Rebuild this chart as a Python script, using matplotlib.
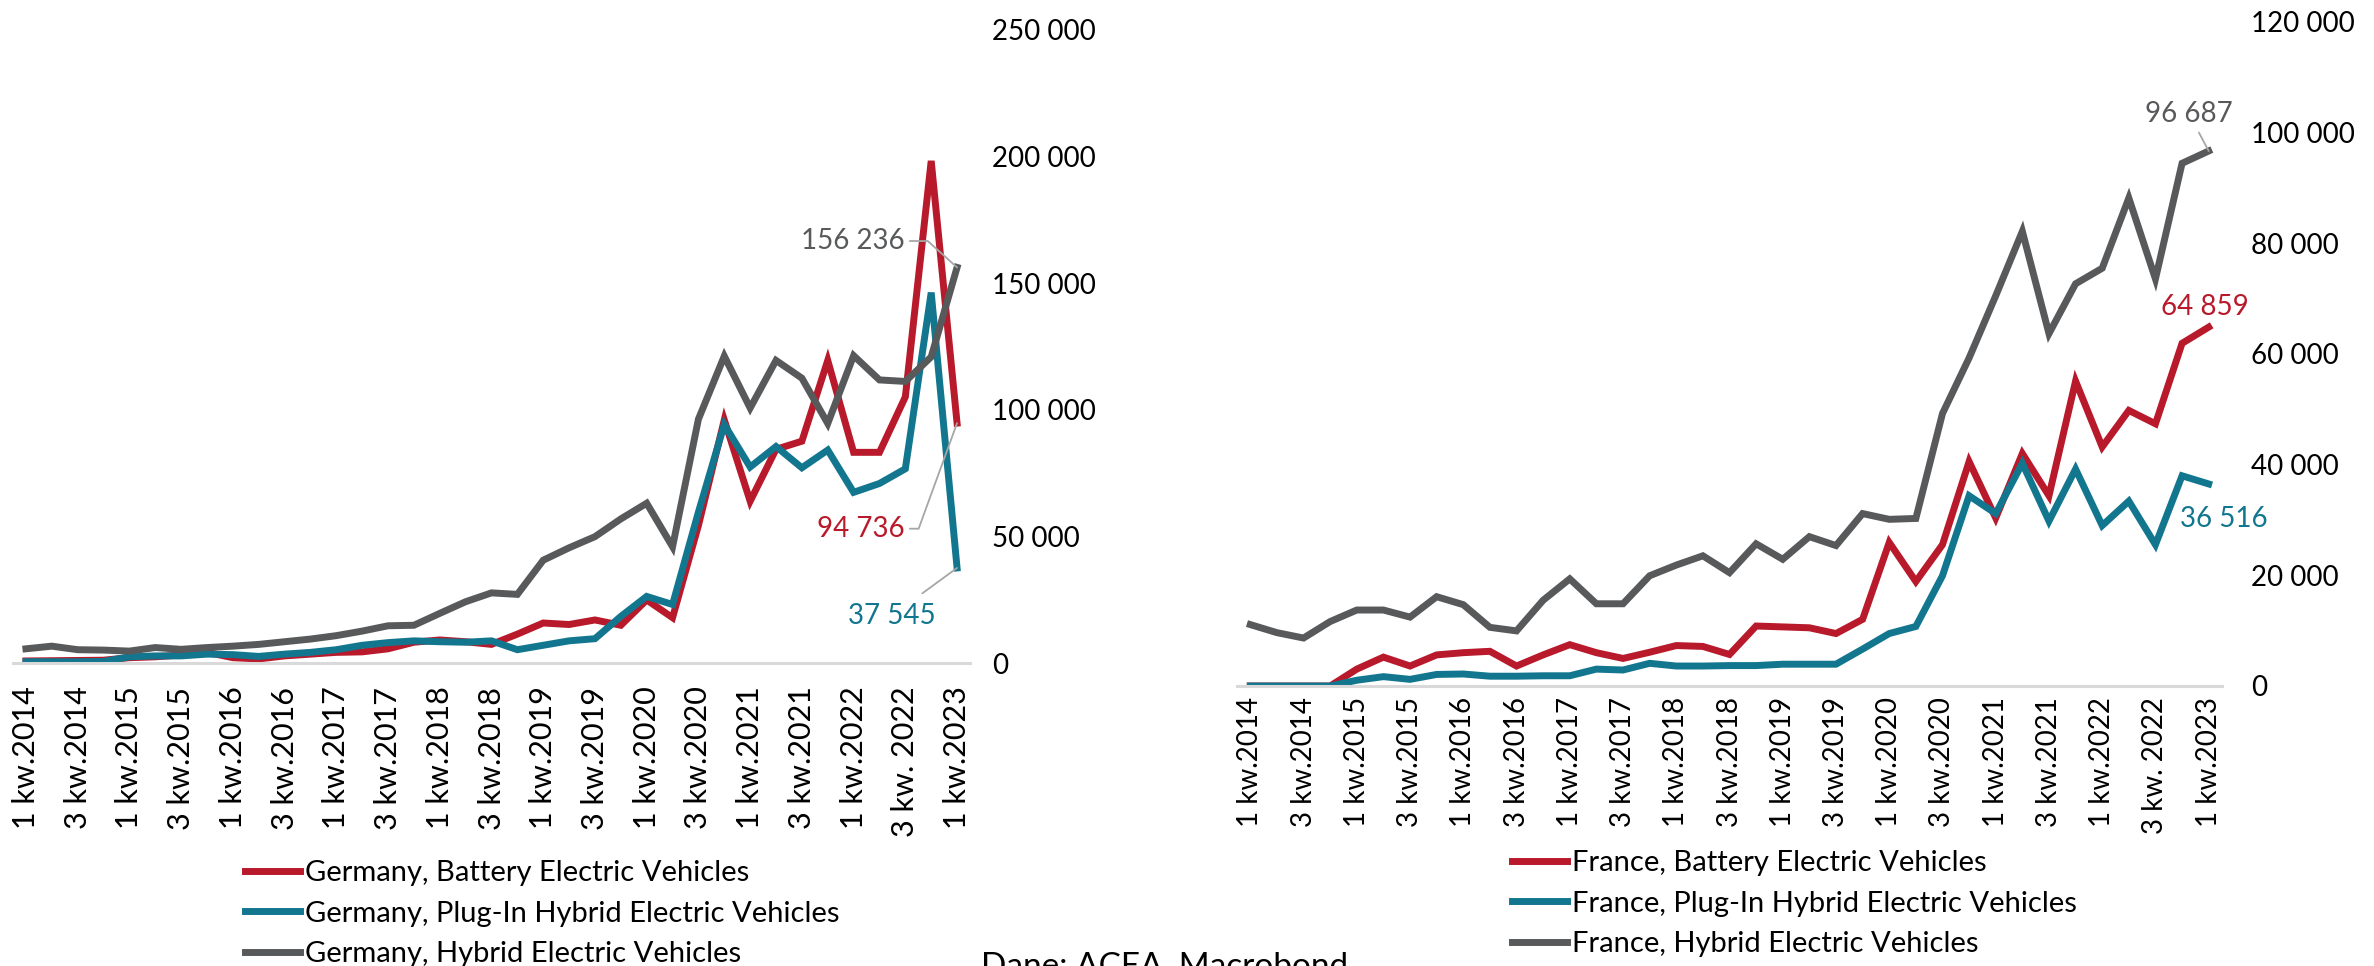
import matplotlib
matplotlib.use('Agg')
from matplotlib import pyplot as plt

# quarters 1 kw.2014 ... 1 kw.2023 (37 points)
quarters = []
for yr in range(2014, 2023):
    for q in range(1, 5):
        quarters.append((q, yr))
quarters.append((1, 2023))

tick_labels = []
for i, (q, yr) in enumerate(quarters):
    if i % 2 == 0:
        if q == 3 and yr == 2022:
            tick_labels.append('3 kw. 2022')
        else:
            tick_labels.append('%d kw.%d' % (q, yr))

# Germany
de_bev = [800, 900, 1000, 1100, 2100, 2450, 3150, 4200, 2100, 1600,
          2800, 3500, 4200, 4400, 5600, 8200, 9100, 8400, 7350, 11400,
          15800, 15200, 17000, 14900, 24900, 17900, 54300, 96000, 63900, 84400,
          87600, 119500, 83200, 83200, 105100, 198300, 94736]
de_phev = [500, 500, 500, 600, 2450, 2800, 2800, 3500, 3300, 2600,
           3500, 4200, 5250, 7000, 8050, 8750, 8400, 8200, 8750, 5250,
           7000, 8750, 9600, 18400, 26300, 23100, 59600, 94200, 77400, 85500,
           77100, 84100, 67400, 70900, 76700, 146300, 37545]
de_hev = [5600, 6650, 5250, 5100, 4700, 6100, 5400, 6100, 6650, 7350,
          8400, 9450, 10800, 12600, 14700, 14900, 19600, 24200, 27700, 27100,
          40600, 45500, 49900, 56900, 63100, 45900, 96300, 121200, 100700, 119500,
          112500, 94600, 121400, 111800, 111200, 120900, 156236]

# France
fr_bev = [0, 0, 0, 0, 3050, 5220, 3610, 5620, 6020, 6270,
          3610, 5620, 7470, 6020, 4980, 6100, 7310, 7150, 5700, 10840,
          10680, 10520, 9480, 12050, 25940, 18880, 25540, 40560, 30360, 42010,
          34380, 55100, 43210, 49800, 47390, 61930, 64859]
fr_phev = [0, 0, 0, 0, 1040, 1690, 1200, 2090, 2170, 1770,
           1770, 1850, 1850, 3050, 2890, 4100, 3610, 3610, 3690, 3690,
           3940, 3940, 3940, 6670, 9480, 10760, 19920, 34380, 31160, 40240,
           29800, 39200, 29000, 33410, 25540, 37990, 36516]
fr_hev = [11100, 9640, 8670, 11650, 13730, 13730, 12450, 16140, 14700, 10600,
          9960, 15500, 19360, 14860, 14860, 19920, 21850, 23530, 20480, 25700,
          22900, 26990, 25380, 31160, 30120, 30280, 49240, 59280, 70520, 82170,
          63690, 72690, 75500, 88190, 73570, 94460, 96687]

de_labels = ['Germany, Battery Electric Vehicles',
             'Germany, Plug-In Hybrid Electric Vehicles',
             'Germany, Hybrid Electric Vehicles']
fr_labels = ['France, Battery Electric Vehicles',
             'France, Plug-In Hybrid Electric Vehicles',
             'France, Hybrid Electric Vehicles']

RED = '#B8192B'
TEAL = '#13768F'
GREY = '#58595B'
LEADER = '#A6A6A6'

plt.rcParams['font.family'] = ['Lato', 'DejaVu Sans']
FS = 20

fig = plt.figure(figsize=(23.74, 9.66), dpi=100)
W, H = 2374, 966


def px_axes(l, r, top, bot):
    return fig.add_axes([l / W, 1 - bot / H, (r - l) / W, (bot - top) / H])


def style_axis(ax, ymax, step, ypad, xsize, xpad):
    ax.set_ylim(0, ymax)
    ax.set_xlim(-0.5, 36.5)
    ax.set_yticks(range(0, ymax + 1, step))
    ax.set_yticklabels(['{:,}'.format(v).replace(',', ' ') for v in range(0, ymax + 1, step)])
    ax.set_xticks(range(0, 37, 2))
    ax.set_xticklabels(tick_labels, rotation=90)
    ax.yaxis.tick_right()
    ax.tick_params(axis='y', length=0, pad=ypad, labelsize=FS)
    ax.tick_params(axis='x', length=0, pad=xpad, labelsize=xsize)
    for s in ['top', 'left', 'right']:
        ax.spines[s].set_visible(False)
    ax.spines['bottom'].set_color('#D9D9D9')
    ax.spines['bottom'].set_linewidth(2.2)
    ax.patch.set_alpha(0)


x = list(range(37))

# left panel: Germany
ax1 = px_axes(13, 970, 30, 663)
l1, = ax1.plot(x, de_bev, color=RED, lw=5, solid_joinstyle='miter')
l2, = ax1.plot(x, de_phev, color=TEAL, lw=5, solid_joinstyle='miter')
l3, = ax1.plot(x, de_hev, color=GREY, lw=5, solid_joinstyle='miter')
style_axis(ax1, 250000, 50000, 16, 22, 17)

ax1.annotate('156 236', xy=(36, de_hev[-1]), xytext=(-38, 19), textcoords='offset points',
             ha='right', va='center', color=GREY, fontsize=FS,
             arrowprops=dict(arrowstyle='-', color=LEADER, lw=1.3, shrinkA=2, shrinkB=0,
                             connectionstyle='angle,angleA=0,angleB=138,rad=0'))
ax1.annotate('94 736', xy=(36, de_bev[-1]), xytext=(-38, -76), textcoords='offset points',
             ha='right', va='center', color=RED, fontsize=FS,
             arrowprops=dict(arrowstyle='-', color=LEADER, lw=1.3, shrinkA=2, shrinkB=0,
                             connectionstyle='angle,angleA=0,angleB=70,rad=0'))
ax1.annotate('37 545', xy=(36, de_phev[-1]), xytext=(-47, -25), textcoords='offset points',
             ha='center', va='top', color=TEAL, fontsize=FS,
             arrowprops=dict(arrowstyle='-', color=LEADER, lw=1.3, shrinkA=8, shrinkB=0))

fig.legend([l1, l2, l3], de_labels, loc='upper left', bbox_to_anchor=(245 / W, 1 - 860 / H),
           frameon=False, fontsize=21, handlelength=1.9, handletextpad=0.15,
           labelspacing=0.5, borderpad=0, borderaxespad=0)

# right panel: France
ax2 = px_axes(1237, 2222, 22, 686)
r1, = ax2.plot(x, fr_bev, color=RED, lw=5, solid_joinstyle='miter')
r2, = ax2.plot(x, fr_phev, color=TEAL, lw=5, solid_joinstyle='miter')
r3, = ax2.plot(x, fr_hev, color=GREY, lw=5, solid_joinstyle='miter')
style_axis(ax2, 120000, 20000, 21, 20, 8)

ax2.annotate('96 687', xy=(36, fr_hev[-1]), xytext=(-14, 17), textcoords='offset points',
             ha='center', va='bottom', color=GREY, fontsize=FS,
             arrowprops=dict(arrowstyle='-', color=LEADER, lw=1.3, shrinkA=2, shrinkB=0))
ax2.annotate('64 859', xy=(36, fr_bev[-1]), xytext=(-3, 5), textcoords='offset points',
             ha='center', va='bottom', color=RED, fontsize=FS)
ax2.annotate('36 516', xy=(36, fr_phev[-1]), xytext=(11, -25), textcoords='offset points',
             ha='center', va='center', color=TEAL, fontsize=FS)

fig.legend([r1, r2, r3], fr_labels, loc='upper left', bbox_to_anchor=(1512 / W, 1 - 850 / H),
           frameon=False, fontsize=21, handlelength=1.9, handletextpad=0.15,
           labelspacing=0.5, borderpad=0, borderaxespad=0)

fig.text(981 / W, 1 - 952 / H, 'Dane: ACEA, Macrobond', ha='left', va='top', fontsize=24)

fig.savefig('out.png', dpi=100)
